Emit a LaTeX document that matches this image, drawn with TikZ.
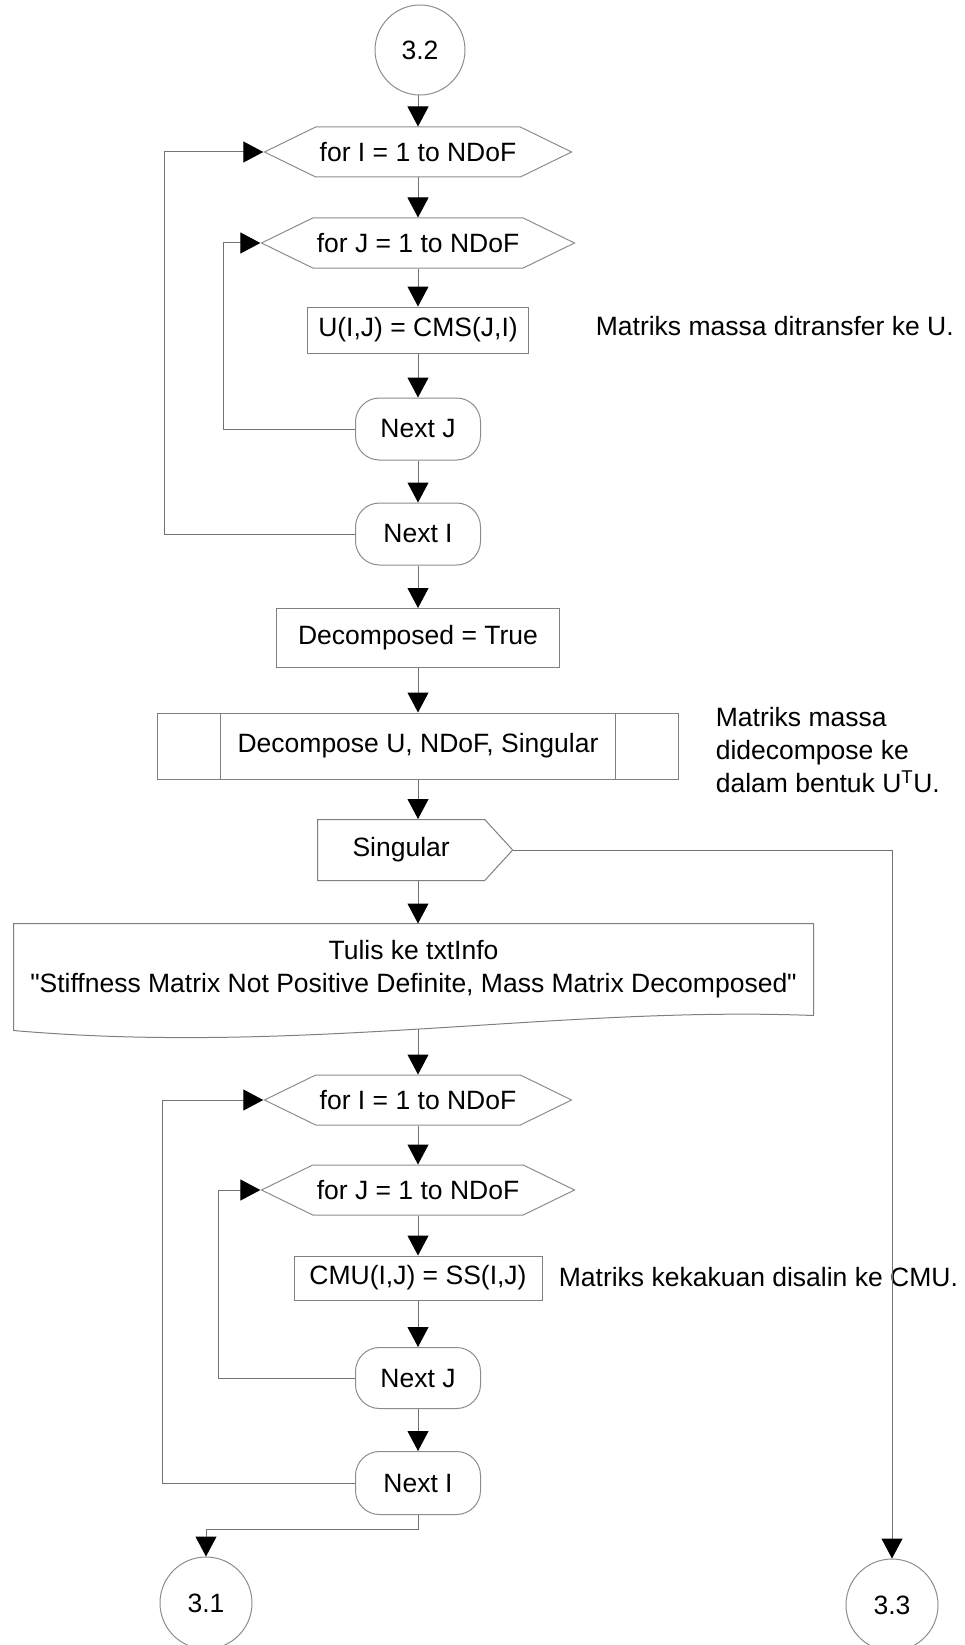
\documentclass[tikz,border=0pt]{standalone}
\usepackage{fontspec}
\setmainfont{Liberation Sans}[Ligatures=TeXOff]
\usetikzlibrary{arrows.meta,positioning,calc,shapes.symbols}

\begin{document}
\begin{tikzpicture}[
        x=1pt, y=-1pt,
        font=\fontsize{26.5}{33}\selectfont,
        line width=1pt,
        arrow/.style={draw=black!55, -{Triangle[length=20pt,width=21pt,color=black]}},
        connector/.style={draw=black!45, circle, minimum size=90pt, inner sep=0pt},
        forloop/.style={draw=black!45, signal, signal to=east and west, signal pointer angle=52,
                        inner xsep=4pt, inner ysep=0pt, minimum height=50pt},
        process/.style={draw=black!50, rectangle, minimum height=46pt, inner sep=0pt},
        terminal/.style={draw=black!45, rectangle, rounded corners=24pt,
                         minimum width=125pt, minimum height=62pt, inner sep=0pt},
        decision/.style={draw=black!50, signal, signal to=east, signal pointer angle=95,
                         inner xsep=35pt, inner ysep=0pt, minimum height=61pt},
        predef/.style={draw=black!50, rectangle, minimum width=521pt, minimum height=66pt,
                       inner sep=0pt, path picture={
                         \draw[black!50, line width=1pt]
                           ([xshift=63pt]path picture bounding box.north west) --
                           ([xshift=63pt]path picture bounding box.south west)
                           ([xshift=-63pt]path picture bounding box.north east) --
                           ([xshift=-63pt]path picture bounding box.south east);}},
        docbox/.style={rectangle, align=center, minimum width=799pt, minimum height=91pt, inner sep=0pt},
        note/.style={anchor=west, align=left}
    ]
        \useasboundingbox (0,0) rectangle (965,1645);

        % first loop: mass matrix to U
        \node[connector] (c32) at (420,50) {3.2};
        \node[forloop] (fori1) at (418,152) {for I = 1 to NDoF};
        \node[forloop] (forj1) at (418,243) {for J = 1 to NDoF};
        \node[process, minimum width=221pt] (uij) at (418,330) {U(I,J) = CMS(J,I)};
        \node[terminal] (nextj1) at (418,429) {Next J};
        \node[terminal] (nexti1) at (418,534) {Next I};
        \node[note] (noteu) at (592,326) {Matriks massa ditransfer ke U.};

        % decomposition
        \node[process, minimum width=283pt, minimum height=59pt] (decset) at (418,638) {Decomposed = True};
        \node[predef] (decomp) at (418,746) {Decompose U, NDoF, Singular};
        \node[note] (notedec) at (712,750) {Matriks massa\\didecompose ke\\dalam bentuk U\textsuperscript{T}U.};
        \node[decision, anchor=west] (sing) at (317,850) {Singular};

        % message
        \node[docbox] (tulis) at (413.5,969.5) {Tulis ke txtInfo\\"Stiffness Matrix Not Positive Definite, Mass Matrix Decomposed"};
        \draw[black!50] (tulis.south east)
            .. controls ($(tulis.south east)+(-253,-10)$) and ($(tulis.south west)+(286,40)$)
            .. ($(tulis.south west)+(0,15)$) -- (tulis.north west) -- (tulis.north east) -- cycle;
        \coordinate (tulisbot) at ($(tulis.south)+(4.5,13)$);

        % second loop: stiffness matrix to CMU
        \node[forloop] (fori2) at (418,1100) {for I = 1 to NDoF};
        \node[forloop] (forj2) at (418,1190) {for J = 1 to NDoF};
        \node[process, minimum width=248pt, minimum height=44pt] (cmu) at (418,1278) {CMU(I,J) = SS(I,J)};
        \node[terminal, minimum height=61pt] (nextj2) at (418,1378) {Next J};
        \node[terminal, minimum height=63pt] (nexti2) at (418,1483) {Next I};
        \node[note] (notecmu) at (555,1277) {Matriks kekakuan disalin ke CMU.};

        \node[connector, minimum size=92pt] (c31) at (206,1603) {3.1};
        \node[connector, minimum size=92pt] (c33) at (892,1605) {3.3};

        % main flow
        \foreach \a/\b in {c32/fori1, fori1/forj1, forj1/uij, uij/nextj1, nextj1/nexti1,
                           nexti1/decset, decset/decomp, decomp/sing,
                           fori2/forj2, forj2/cmu, cmu/nextj2, nextj2/nexti2}
            \draw[arrow] (\a.south -| decomp) -- (decomp |- \b.north);
        \draw[arrow] (sing.south -| decomp) -- (decomp |- tulis.north);
        \draw[arrow] (tulisbot) -- (tulisbot |- fori2.north);

        % loop returns
        \coordinate (outer1) at (164,0);
        \coordinate (inner1) at (223,0);
        \coordinate (outer2) at (162,0);
        \coordinate (inner2) at (218,0);
        \draw[arrow] (nexti1.west) -- (nexti1.west -| outer1) |- (fori1.west);
        \draw[arrow] (nextj1.west) -- (nextj1.west -| inner1) |- (forj1.west);
        \draw[arrow] (nexti2.west) -- (nexti2.west -| outer2) |- (fori2.west);
        \draw[arrow] (nextj2.west) -- (nextj2.west -| inner2) |- (forj2.west);

        % exits
        \draw[arrow] (sing.east) -| (c33.north);
        \draw[arrow] (nexti2.south) -- ++(0,14) -| (c31.north);
    \end{tikzpicture}
\end{document}
